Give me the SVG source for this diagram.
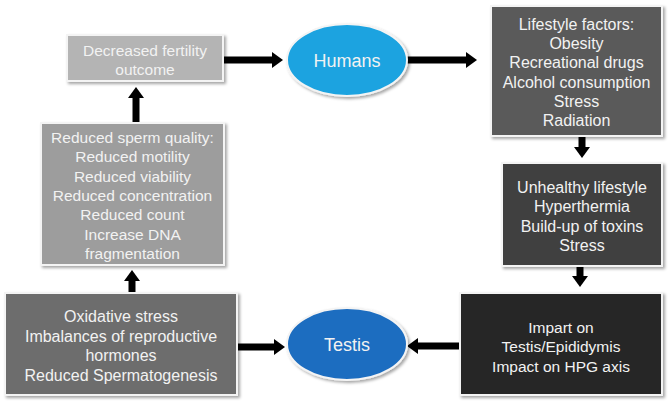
<svg xmlns="http://www.w3.org/2000/svg" width="669" height="403" viewBox="0 0 669 403">
<defs>
<filter id="sh" x="-10%" y="-10%" width="125%" height="125%">
<feDropShadow dx="2" dy="2" stdDeviation="1.5" flood-color="#000" flood-opacity="0.35"/>
</filter>
<marker id="ah" markerUnits="userSpaceOnUse" markerWidth="11" markerHeight="16" refX="1" refY="8" orient="auto">
<path d="M0,0 L11,8 L0,16 z" fill="#000"/>
</marker>
</defs>
<style>
.box{stroke:#f4f4f4;stroke-width:2;filter:url(#sh)}
.t{font-family:"Liberation Sans",Arial,sans-serif;fill:#f2f2f2;text-anchor:middle}
.c{stroke:#000;stroke-width:7;fill:none;marker-end:url(#ah)}
</style>
<rect width="669" height="403" fill="#fff"/>
<g id="connectors">
<line class="c" x1="223" y1="60" x2="273" y2="60"/>
<line class="c" x1="407" y1="60" x2="467" y2="60"/>
<line class="c" x1="582" y1="136" x2="582" y2="148"/>
<line class="c" x1="580" y1="266" x2="580" y2="277"/>
<line class="c" x1="459" y1="346" x2="417" y2="346"/>
<line class="c" x1="237" y1="347" x2="275" y2="347"/>
<line class="c" x1="132" y1="293" x2="132" y2="280"/>
<line class="c" x1="136" y1="123" x2="136" y2="97"/>
</g>
<g id="decreased">
<rect class="box" x="67" y="35" width="156" height="46" fill="#b4b4b4"/>
<text class="t" font-size="15.5" x="145" y="55.5">Decreased fertility</text>
<text class="t" font-size="15.5" x="145" y="74.5">outcome</text>
</g>
<g id="humans">
<ellipse class="box" cx="347" cy="60" rx="60" ry="36" fill="#1ba3e0"/>
<text class="t" font-size="18" x="347" y="66.5" fill="#fff">Humans</text>
</g>
<g id="lifestyle">
<rect class="box" x="491" y="6" width="171" height="130" fill="#5a5a5a"/>
<text class="t" font-size="16" x="576.5" y="29.5">Lifestyle factors:</text>
<text class="t" font-size="16" x="576.5" y="48.5">Obesity</text>
<text class="t" font-size="16" x="576.5" y="68">Recreational drugs</text>
<text class="t" font-size="16" x="576.5" y="87.5">Alcohol consumption</text>
<text class="t" font-size="16" x="576.5" y="106.5">Stress</text>
<text class="t" font-size="16" x="576.5" y="125.5">Radiation</text>
</g>
<g id="unhealthy">
<rect class="box" x="502" y="163" width="160" height="103" fill="#414141"/>
<text class="t" font-size="16" x="582" y="192.5">Unhealthy lifestyle</text>
<text class="t" font-size="16" x="582" y="212">Hyperthermia</text>
<text class="t" font-size="16" x="582" y="231.5">Build-up of toxins</text>
<text class="t" font-size="16" x="582" y="251">Stress</text>
</g>
<g id="impart">
<rect class="box" x="460" y="293" width="202" height="102" fill="#272727"/>
<text class="t" font-size="15.5" x="561" y="332.5">Impart on</text>
<text class="t" font-size="15.5" x="561" y="352">Testis/Epididymis</text>
<text class="t" font-size="15.5" x="561" y="371.5">Impact on HPG axis</text>
</g>
<g id="testis">
<ellipse class="box" cx="347" cy="344" rx="60" ry="36" fill="#1d6dc0"/>
<text class="t" font-size="18" x="347" y="350.5" fill="#fff">Testis</text>
</g>
<g id="oxidative">
<rect class="box" x="5" y="293" width="232" height="102" fill="#6d6d6d"/>
<text class="t" font-size="16" x="121" y="321.5">Oxidative stress</text>
<text class="t" font-size="16" x="121" y="341.5">Imbalances of reproductive</text>
<text class="t" font-size="16" x="121" y="361">hormones</text>
<text class="t" font-size="16" x="121" y="380.5">Reduced Spermatogenesis</text>
</g>
<g id="reduced">
<rect class="box" x="41" y="123" width="183" height="142" fill="#9d9d9d"/>
<text class="t" font-size="15.5" x="132.5" y="142.5">Reduced sperm quality:</text>
<text class="t" font-size="15.5" x="132.5" y="162">Reduced motility</text>
<text class="t" font-size="15.5" x="132.5" y="181.5">Reduced viability</text>
<text class="t" font-size="15.5" x="132.5" y="201">Reduced concentration</text>
<text class="t" font-size="15.5" x="132.5" y="220">Reduced count</text>
<text class="t" font-size="15.5" x="132.5" y="239.5">Increase DNA</text>
<text class="t" font-size="15.5" x="132.5" y="259">fragmentation</text>
</g>
</svg>
